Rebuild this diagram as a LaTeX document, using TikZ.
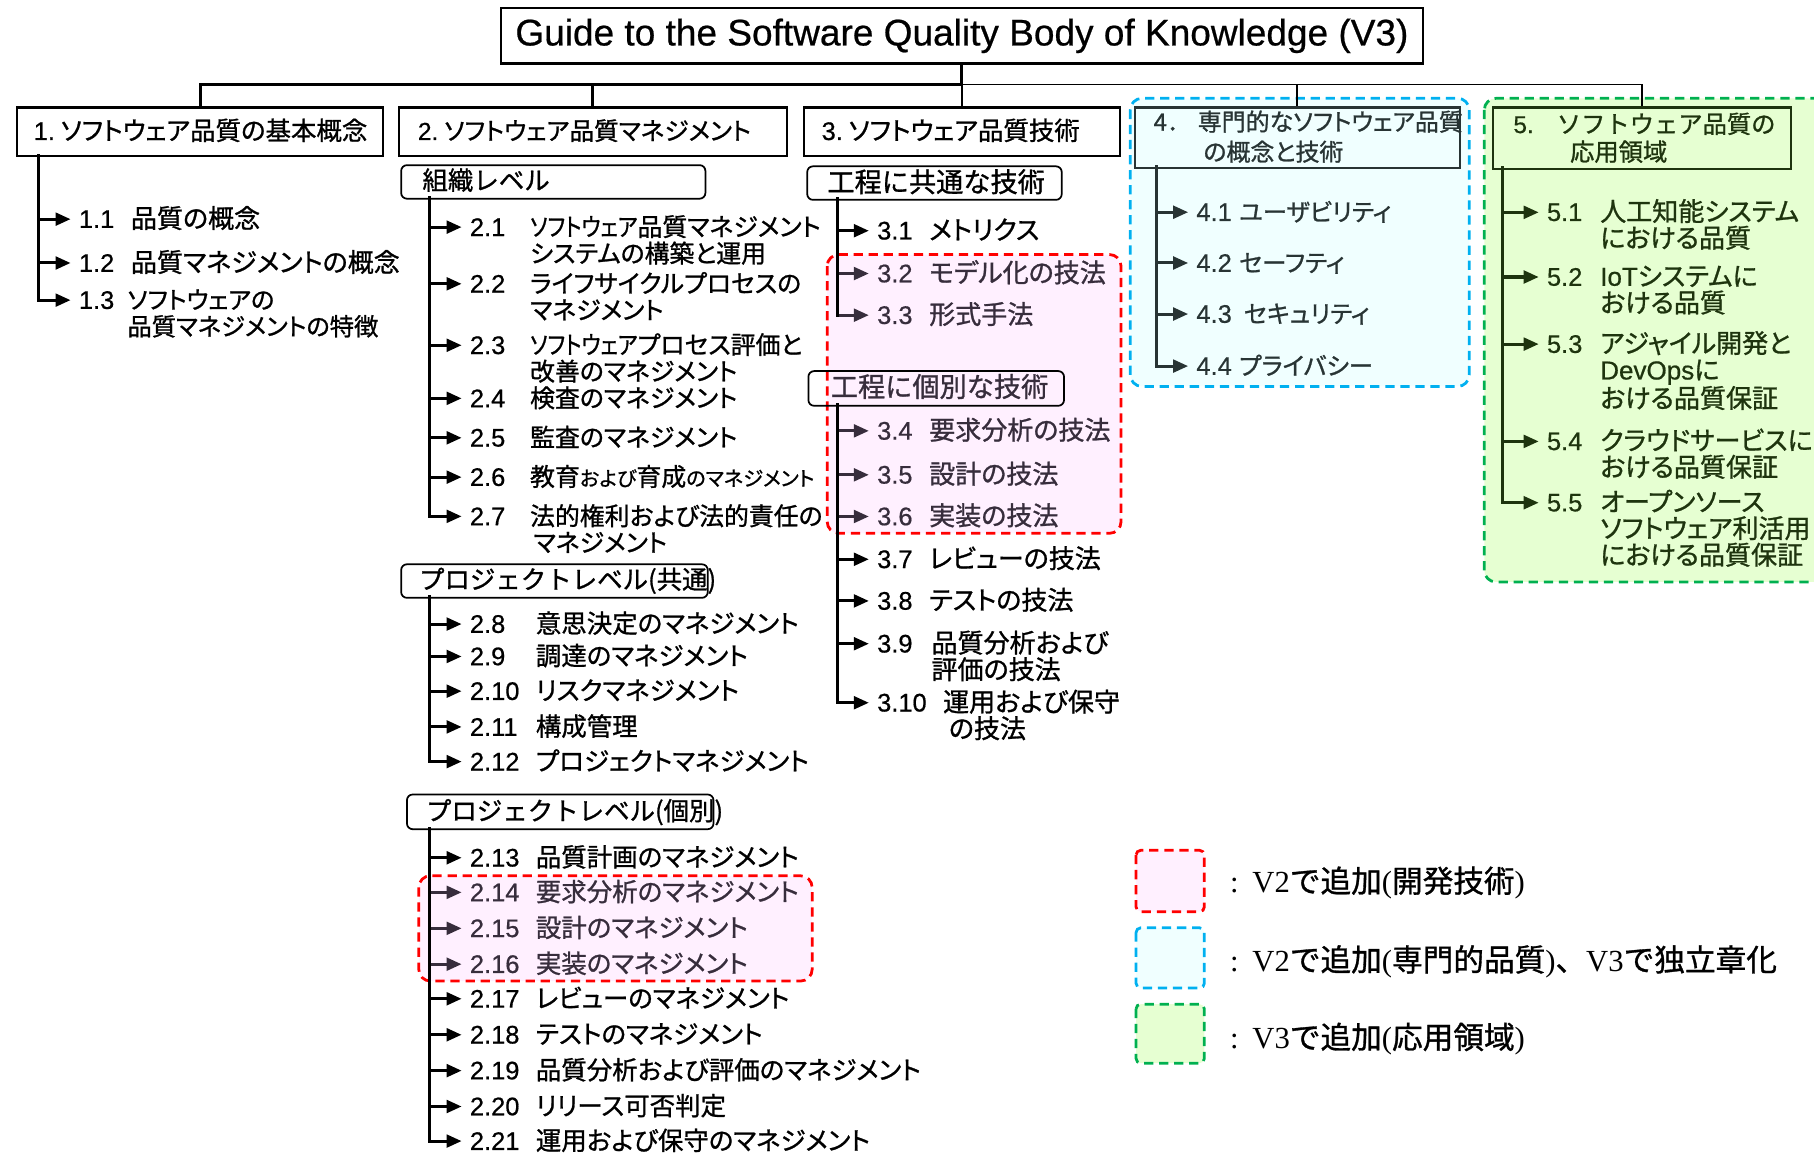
\documentclass[tikz,border=0pt]{standalone}
\usepackage{fontspec}
\setmainfont[FakeBold=0.6]{Liberation Sans}
\newfontfamily\jp[RawFeature=+palt,FakeBold=1]{Noto Sans CJK JP}
\newfontfamily\jf[FakeBold=1]{Noto Sans CJK JP}
\newfontfamily\ar[FakeBold=0.6]{Liberation Sans}
\newfontfamily\se{Liberation Serif}
\usetikzlibrary{arrows.meta}
\definecolor{inred}{RGB}{55,45,60}
\definecolor{inblue}{RGB}{40,52,52}
\definecolor{ingreen}{RGB}{30,52,14}
\definecolor{fillred}{RGB}{255,240,255}
\definecolor{fillblue}{RGB}{240,255,255}
\definecolor{fillgreen}{RGB}{230,255,210}
\definecolor{dred}{RGB}{255,0,0}
\definecolor{dblue}{RGB}{0,176,240}
\definecolor{dgreen}{RGB}{0,176,80}
\newcommand\twol[2]{\vtop{\hbox{#1}\hbox{#2}}}
\newcommand\threel[3]{\vtop{\hbox{#1}\hbox{#2}\hbox{#3}}}
\newcommand\swnarrow{\scalebox{0.85}[1]{ソフトウェア}}
\newcommand\bok[9]{%
  \node[numst,text=#8] (#1) at (#4,{#3+8}) {#6};
  \node[#9,text=#8] (#1t) at (#5,{#3+8}) {#7};
  \draw[arr,color=#8] (#2 |- #1.west) -- (#1.west);}
\begin{document}
\begin{tikzpicture}[x=1pt,y=-1pt,
  numst/.style={anchor=base west, inner sep=0pt, font=\ar\fontsize{22}{23}\selectfont},
  tbase/.style={anchor=base west, inner sep=0pt},
  tA/.style={tbase, font=\jp\fontsize{21.5}{23}\selectfont},
  tB/.style={tbase, font=\jp\fontsize{22}{23}\selectfont},
  tC/.style={tbase, font=\jp\fontsize{22.5}{23}\selectfont},
  tD/.style={tbase, font=\jp\fontsize{21}{23}\selectfont},
  arr/.style={line width=2.6pt, -{Triangle[length=13pt,width=11pt]}, shorten >=7pt},
  trunk/.style={line width=2.6pt, line cap=rect},
  hbox/.style={draw, line width=1.8pt, anchor=north west, inner sep=0pt},
  sbox/.style={draw, line width=1.5pt, rounded corners=5pt, anchor=north west, inner sep=0pt},
  htxt/.style={anchor=base west, inner sep=0pt, font=\jp\fontsize{22}{26}\selectfont},
  stxt/.style={anchor=base west, inner sep=0pt, font=\jf\fontsize{22}{24}\selectfont},
  region/.style={line width=2.4pt, dash pattern=on 8pt off 5pt, rounded corners=10pt},
  legt/.style={anchor=west, inner sep=0pt, font=\jf\fontsize{26.5}{28}\selectfont}]
\useasboundingbox (0,0) rectangle (1568,997);
% coloured regions
\draw[region, draw=dred, fill=fillred] (715,220) rectangle (969,461);
\draw[region, draw=dred, fill=fillred] (362,757) rectangle (702,848);
\draw[region, draw=dblue, fill=fillblue] (977,85) rectangle (1270,334);
\draw[region, draw=dgreen, fill=fillgreen] (1283,85) rectangle (1600,503);
% title
\node[draw, line width=2pt, minimum width=797pt, minimum height=48pt, anchor=north west,
  inner sep=0pt, font=\ar\fontsize{32}{36}\selectfont] (title) at (432,6)
  {Guide to the Software Quality Body of Knowledge (V3)};
% chapter boxes
\node[hbox, minimum width=316pt, minimum height=42pt] (h1) at (14,92) {};
\node[hbox, minimum width=335pt, minimum height=42pt] (h2) at (344,92) {};
\node[hbox, minimum width=273pt, minimum height=42pt] (h3) at (694,92) {};
\node[hbox, minimum width=281pt, minimum height=52pt, draw=inblue, fill=fillblue] (h4) at (980,92) {};
\node[hbox, minimum width=257pt, minimum height=53pt, draw=ingreen, fill=fillgreen] (h5) at (1290,92) {};
\node[htxt] (h1t) at (29,121) {{\ar 1.}\hspace{5pt}ソフトウェア品質の基本概念};
\node[htxt, font=\jp\fontsize{21.3}{26}\selectfont] (h2t) at (361,121) {{\ar 2.}\hspace{5pt}ソフトウェア品質マネジメント};
\node[htxt] (h3t) at (710,121) {{\ar 3.}\hspace{5pt}ソフトウェア品質技術};
\node[htxt, font=\jp\fontsize{20.7}{26}\selectfont, text=inblue] (h4t) at (997,113)
  {\twol{{\jf 4．}\hspace{6pt}専門的なソフトウェア品質}{\hspace{43pt}の概念と技術}};
\node[htxt, font=\jf\fontsize{21}{24}\selectfont, text=ingreen] (h5t) at (1308,115)
  {\twol{{\ar 5.}\hspace{20pt}ソフトウェア品質の}{\hspace{49pt}応用領域}};
% bus lines
\coordinate (bus) at (0,73);
\draw[line width=2.6pt] (title.south) -- (title.south |- bus);
\draw[line width=2.6pt] (h1.north) -- (h1.north |- bus) -- (title.south |- bus);
\draw[line width=2.6pt] (h2.north) -- (h2.north |- bus);
\draw[line width=1.6pt] (title.south |- bus) -- (h5.north |- bus) -- (h5.north);
\draw[line width=1.6pt] (h3.north) -- (h3.north |- bus);
\draw[line width=1.6pt] (h4.north) -- (h4.north |- bus);
% column 1
\coordinate (t1) at (33,134);
\bok{i11}{t1}{189}{68}{113}{1.1}{品質の概念}{black}{tC}
\bok{i12}{t1}{227}{68}{113}{1.2}{品質マネジメントの概念}{black}{tC}
\bok{i13}{t1}{259}{68}{110}{1.3}{\twol{ソフトウェアの}{品質マネジメントの特徴}}{black}{tD}
\draw[trunk] (t1) -- (t1 |- i13.west);
% column 2, organisation level
\node[sbox, minimum width=263pt, minimum height=29pt] (s2a) at (346,142) {};
\node[stxt] (s2at) at (365,164) {組織レベル};
\coordinate (t2a) at (371,171);
\bok{i21}{t2a}{196}{406}{458}{2.1}{\twol{\swnarrow 品質マネジメント}{システムの構築と運用}}{black}{tA}
\bok{i22}{t2a}{245}{406}{458}{2.2}{\twol{ライフサイクルプロセスの}{マネジメント}}{black}{tA}
\bok{i23}{t2a}{298}{406}{458}{2.3}{\twol{\swnarrow プロセス評価と}{改善のマネジメント}}{black}{tA}
\bok{i24}{t2a}{344}{406}{458}{2.4}{検査のマネジメント}{black}{tA}
\bok{i25}{t2a}{378}{406}{458}{2.5}{監査のマネジメント}{black}{tA}
\bok{i26}{t2a}{412}{406}{458}{2.6}{教育{\fontsize{17.5}{18}\selectfont および}育成{\fontsize{17.5}{18}\selectfont のマネジメント}}{black}{tA}
\bok{i27}{t2a}{446}{406}{458}{2.7}{\twol{法的権利および法的責任の}{\hspace{3pt}マネジメント}}{black}{tA}
\draw[trunk] (t2a) -- (t2a |- i27.west);
% column 2, project level (common)
\node[sbox, minimum width=265pt, minimum height=29pt] (s2b) at (346,487) {};
\node[stxt] (s2bt) at (362,509) {プロジェクトレベル(共通)};
\coordinate (t2b) at (371,516);
\bok{i28}{t2b}{539}{406}{463}{2.8}{意思決定のマネジメント}{black}{tB}
\bok{i29}{t2b}{567}{406}{463}{2.9}{調達のマネジメント}{black}{tB}
\bok{i210}{t2b}{597}{406}{463}{2.10}{リスクマネジメント}{black}{tB}
\bok{i211}{t2b}{628}{406}{463}{2.11}{構成管理}{black}{tB}
\bok{i212}{t2b}{658}{406}{463}{2.12}{プロジェクトマネジメント}{black}{tB}
\draw[trunk] (t2b) -- (t2b |- i212.west);
% column 2, project level (individual)
\node[sbox, minimum width=265pt, minimum height=30pt] (s2c) at (351,686) {};
\node[stxt] (s2ct) at (368,709) {プロジェクトレベル(個別)};
\coordinate (t2c) at (371,716);
\bok{i213}{t2c}{741}{406}{463}{2.13}{品質計画のマネジメント}{black}{tB}
\bok{i214}{t2c}{771}{406}{463}{2.14}{要求分析のマネジメント}{inred}{tB}
\bok{i215}{t2c}{802}{406}{463}{2.15}{設計のマネジメント}{inred}{tB}
\bok{i216}{t2c}{833}{406}{463}{2.16}{実装のマネジメント}{inred}{tB}
\bok{i217}{t2c}{863}{406}{463}{2.17}{レビューのマネジメント}{black}{tB}
\bok{i218}{t2c}{894}{406}{463}{2.18}{テストのマネジメント}{black}{tB}
\bok{i219}{t2c}{925}{406}{463}{2.19}{品質分析および評価のマネジメント}{black}{tB}
\bok{i220}{t2c}{956}{406}{463}{2.20}{リリース可否判定}{black}{tB}
\bok{i221}{t2c}{986}{406}{463}{2.21}{運用および保守のマネジメント}{black}{tB}
\draw[trunk] (t2c) -- (t2c |- i221.west);
% column 3, common techniques
\node[sbox, minimum width=220pt, minimum height=29pt] (s3a) at (697,143) {};
\node[stxt, font=\jf\fontsize{23.5}{24}\selectfont] (s3at) at (715,166) {工程に共通な技術};
\coordinate (t3a) at (724,172);
\bok{i31}{t3a}{199}{758}{803}{3.1}{メトリクス}{black}{tC}
\bok{i32}{t3a}{236}{758}{803}{3.2}{モデル化の技法}{inred}{tC}
\bok{i33}{t3a}{272}{758}{803}{3.3}{形式手法}{inred}{tC}
\draw[trunk] (t3a) -- (t3a |- i33.west);
% column 3, individual techniques
\node[sbox, minimum width=221pt, minimum height=30pt] (s3b) at (698,320) {};
\node[stxt, font=\jf\fontsize{23.5}{24}\selectfont, text=inred] (s3bt) at (718,343) {工程に個別な技術};
\coordinate (t3b) at (724,350);
\bok{i34}{t3b}{372}{758}{803}{3.4}{要求分析の技法}{inred}{tC}
\bok{i35}{t3b}{410}{758}{803}{3.5}{設計の技法}{inred}{tC}
\bok{i36}{t3b}{446}{758}{803}{3.6}{実装の技法}{inred}{tC}
\bok{i37}{t3b}{483}{758}{803}{3.7}{レビューの技法}{black}{tC}
\bok{i38}{t3b}{519}{758}{803}{3.8}{テストの技法}{black}{tC}
\bok{i39}{t3b}{556}{758}{805}{3.9}{\twol{品質分析および}{評価の技法}}{black}{tC}
\bok{i310}{t3b}{607}{758}{815}{3.10}{\twol{運用および保守}{\hspace{5pt}の技法}}{black}{tC}
\draw[trunk] (t3b) -- (t3b |- i310.west);
% column 4
\coordinate (t4) at (1000,144);
\bok{i41}{t4}{183}{1034}{1071}{4.1}{ユーザビリティ}{inblue}{tD}
\bok{i42}{t4}{227}{1034}{1071}{4.2}{セーフティ}{inblue}{tD}
\bok{i43}{t4}{271}{1034}{1075}{4.3}{セキュリティ}{inblue}{tD}
\bok{i44}{t4}{316}{1034}{1071}{4.4}{プライバシー}{inblue}{tD}
\draw[trunk, color=inblue] (t4) -- (t4 |- i44.west);
% column 5
\coordinate (t5) at (1299,145);
\bok{i51}{t5}{183}{1337}{1383}{5.1}{\twol{人工知能システム}{における品質}}{ingreen}{tC}
\bok{i52}{t5}{239}{1337}{1383}{5.2}{\twol{{\ar IoT}システムに}{おける品質}}{ingreen}{tC}
\bok{i53}{t5}{297}{1337}{1383}{5.3}{\threel{アジャイル開発と}{{\ar DevOps}に}{おける品質保証}}{ingreen}{tC}
\bok{i54}{t5}{381}{1337}{1383}{5.4}{\twol{クラウドサービスに}{おける品質保証}}{ingreen}{tC}
\bok{i55}{t5}{434}{1337}{1383}{5.5}{\threel{オープンソース}{ソフトウェア利活用}{における品質保証}}{ingreen}{tC}
\draw[trunk, color=ingreen] (t5) -- (t5 |- i55.west);
% legend
\draw[region, rounded corners=4pt, draw=dred, fill=fillred] (982,735) rectangle (1041,788);
\draw[region, rounded corners=4pt, draw=dblue, fill=fillblue] (982,802) rectangle (1041,854);
\draw[region, rounded corners=4pt, draw=dgreen, fill=fillgreen] (982,868) rectangle (1041,919);
\node[legt] (lg1) at (1063,763) {{\se :}\hspace{12pt}{\se V2}で追加{\se (}開発技術{\se )}};
\node[legt] (lg2) at (1063,831) {{\se :}\hspace{12pt}{\se V2}で追加{\se (}専門的品質{\se )}、{\se V3}で独立章化};
\node[legt] (lg3) at (1063,898) {{\se :}\hspace{12pt}{\se V3}で追加{\se (}応用領域{\se )}};
\end{tikzpicture}
\end{document}
